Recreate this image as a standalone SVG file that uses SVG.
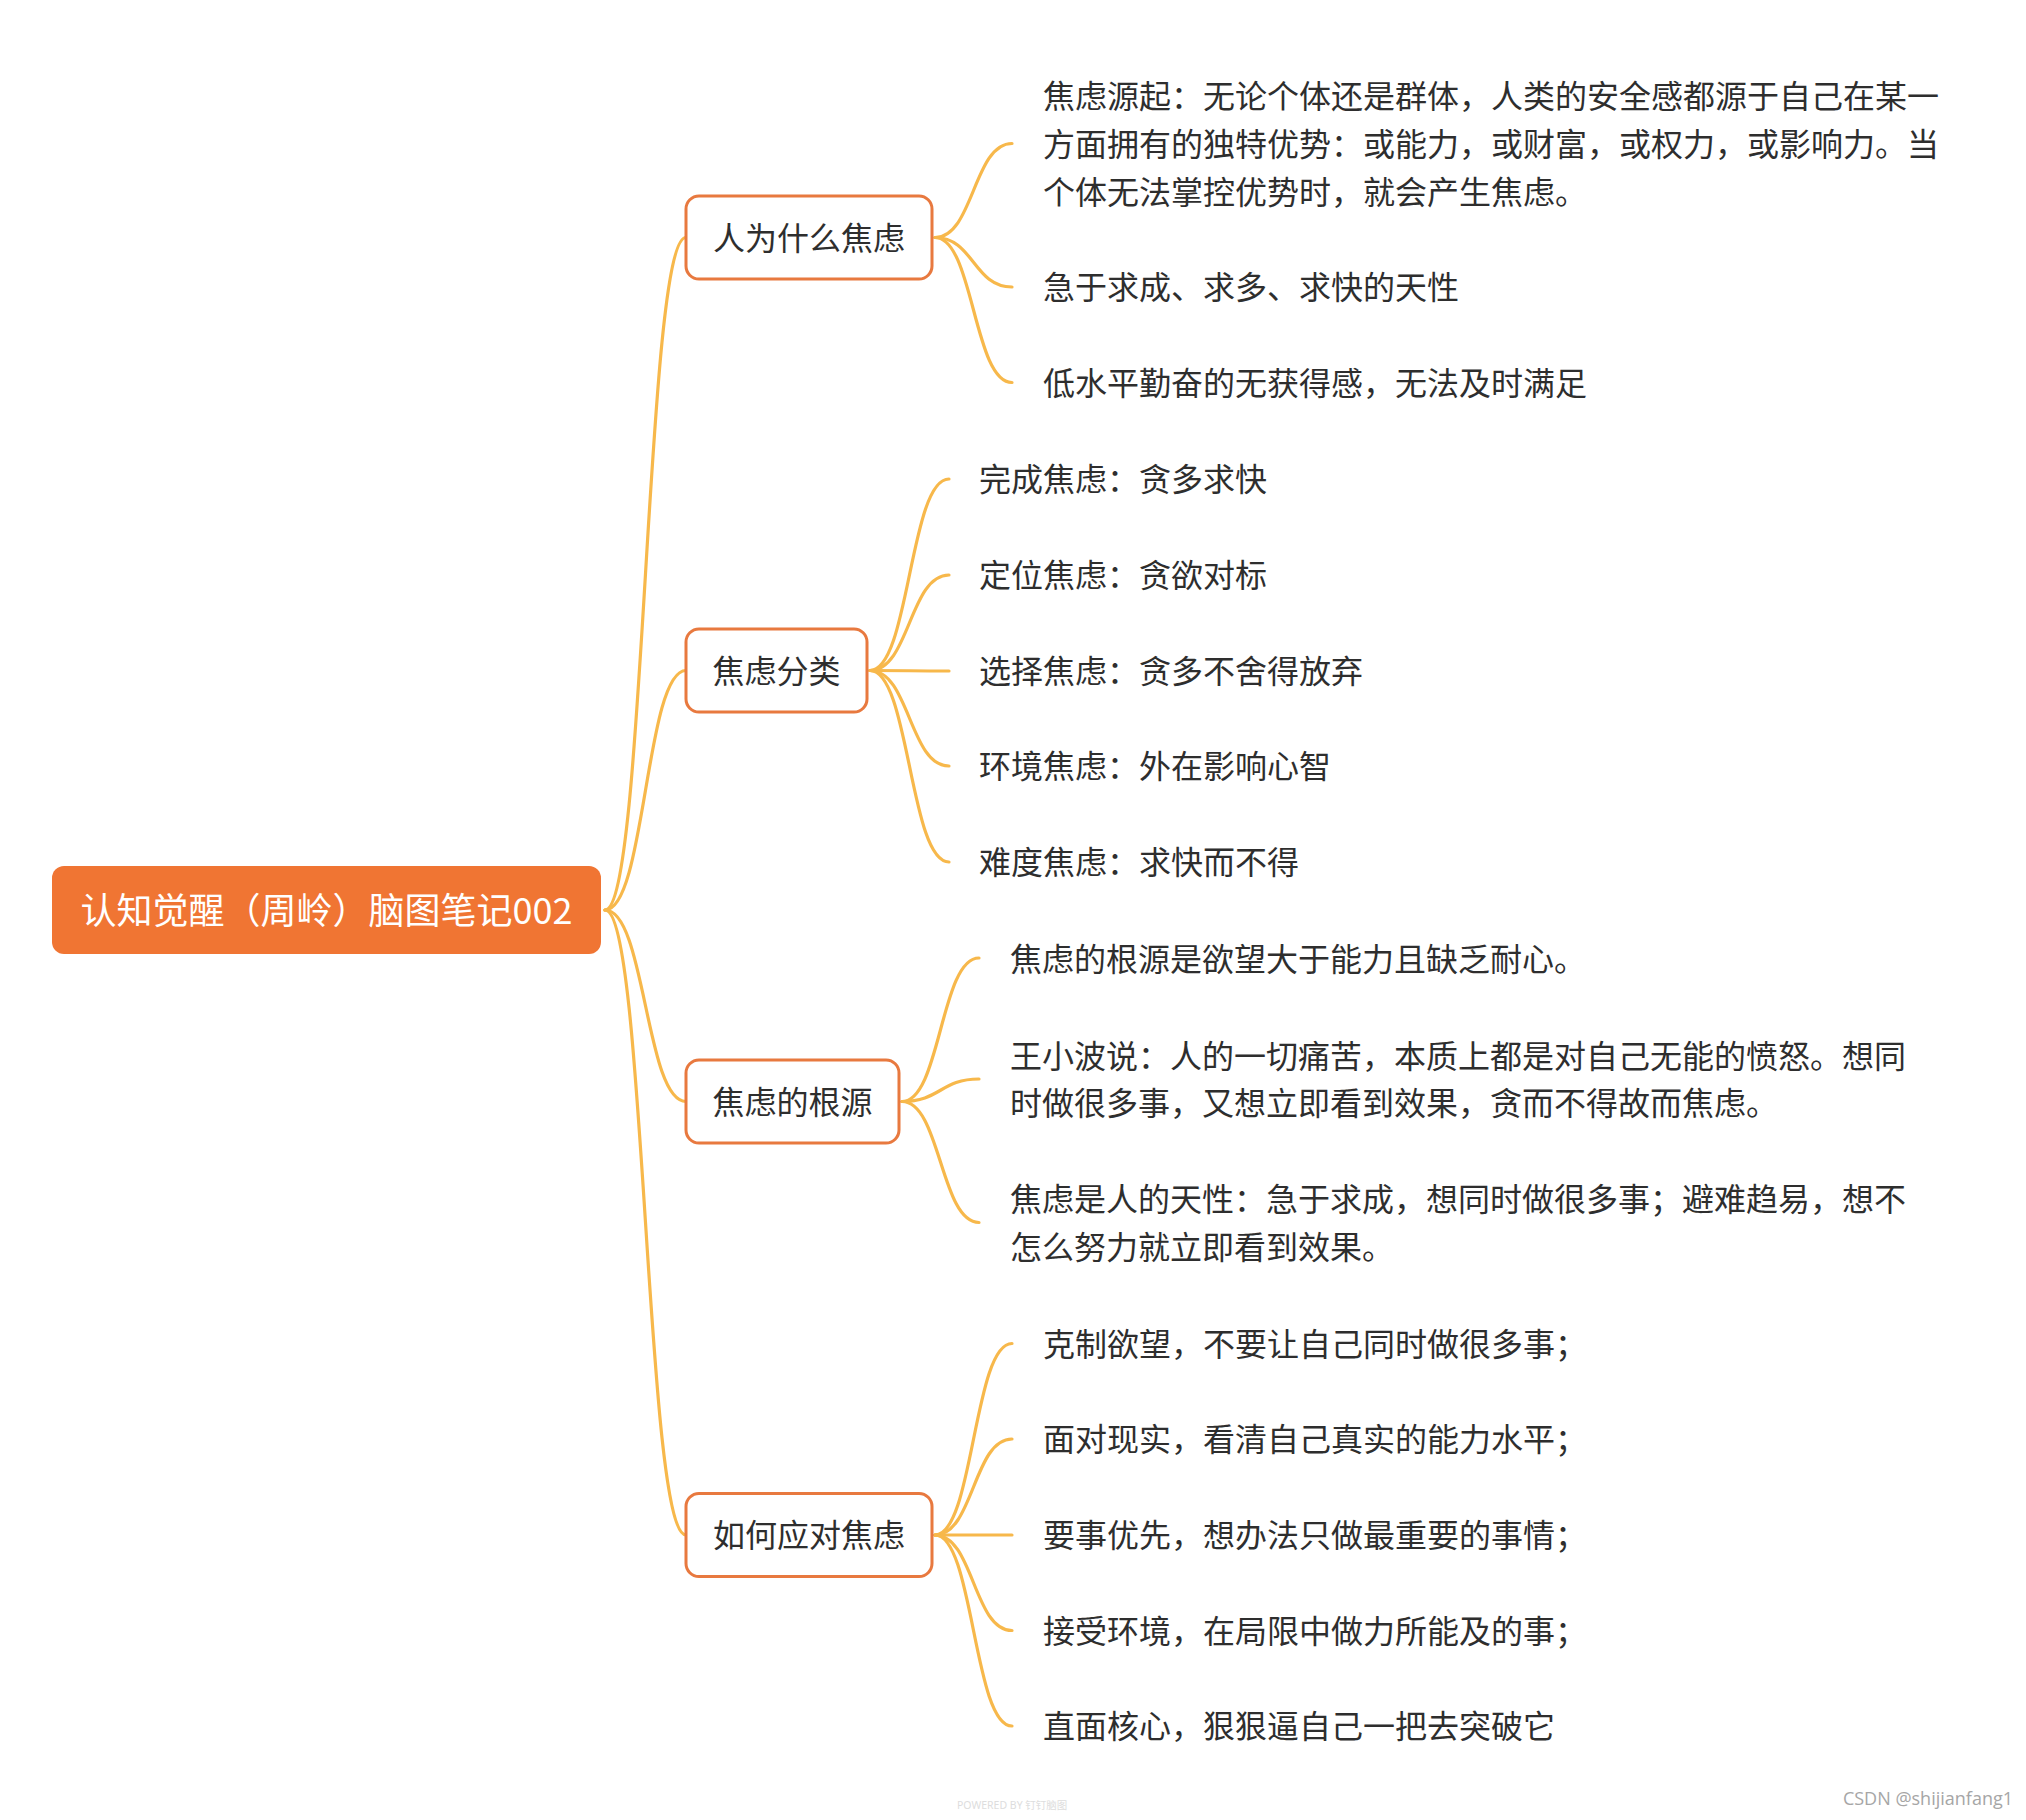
<svg xmlns="http://www.w3.org/2000/svg" width="2026" height="1820" viewBox="0 0 2026 1820">
<style>
.bg{fill:#ffffff}
.link{fill:none;stroke:#F7B84B;stroke-width:3.2;stroke-linecap:round}
.root{fill:#F07533}
.rootText{font-family:"Noto Sans CJK SC","Noto Sans",sans-serif;font-size:36px;fill:#ffffff}
.l1{fill:#ffffff;stroke:#E8793F;stroke-width:3}
.l1Text{font-family:"Noto Sans CJK SC","Noto Sans",sans-serif;font-size:32px;fill:#2e2e2e}
.leaf{font-family:"Noto Sans CJK SC","Noto Sans",sans-serif;font-size:32px;fill:#2e2e2e}
.mark{font-family:"Open Sans","Noto Sans",sans-serif;font-size:18px;fill:#a6a6a6}
.powered{font-family:"Noto Sans","Noto Sans CJK SC",sans-serif;font-size:10.5px;fill:#dddddd}
</style>
<rect class="bg" x="0" y="0" width="2026" height="1820"/>
<g id="connectors">
<path class="link" d="M605,910 C645.5,910 645.5,237.5 686,237.5"/>
<path class="link" d="M605,910 C645.5,910 645.5,670.5 686,670.5"/>
<path class="link" d="M605,910 C645.5,910 645.5,1101.5 686,1101.5"/>
<path class="link" d="M605,910 C645.5,910 645.5,1535 686,1535"/>
<path class="link" d="M935,237.5 C973.5,237.5 973.5,143.5 1012,143.5"/>
<path class="link" d="M935,237.5 C973.5,237.5 973.5,287 1012,287"/>
<path class="link" d="M935,237.5 C973.5,237.5 973.5,382.5 1012,382.5"/>
<path class="link" d="M870,670.5 C909.5,670.5 909.5,479 949,479"/>
<path class="link" d="M870,670.5 C909.5,670.5 909.5,575 949,575"/>
<path class="link" d="M870,670.5 C909.5,670.5 909.5,671 949,671"/>
<path class="link" d="M870,670.5 C909.5,670.5 909.5,766 949,766"/>
<path class="link" d="M870,670.5 C909.5,670.5 909.5,862 949,862"/>
<path class="link" d="M902,1101.5 C940.5,1101.5 940.5,958 979,958"/>
<path class="link" d="M902,1101.5 C940.5,1101.5 940.5,1079 979,1079"/>
<path class="link" d="M902,1101.5 C940.5,1101.5 940.5,1222.5 979,1222.5"/>
<path class="link" d="M935,1535 C973.5,1535 973.5,1343.5 1012,1343.5"/>
<path class="link" d="M935,1535 C973.5,1535 973.5,1439 1012,1439"/>
<path class="link" d="M935,1535 C973.5,1535 973.5,1535 1012,1535"/>
<path class="link" d="M935,1535 C973.5,1535 973.5,1630.5 1012,1630.5"/>
<path class="link" d="M935,1535 C973.5,1535 973.5,1726 1012,1726"/>
</g>
<g id="root">
<rect class="root" x="52" y="866" width="549" height="88" rx="12" ry="12"/>
<text class="rootText" x="326.5" y="923.5" text-anchor="middle">认知觉醒（周岭）脑图笔记002</text>
</g>
<g id="n-why">
<rect class="l1" x="686" y="196" width="246" height="83" rx="13" ry="13"/>
<text class="l1Text" x="809" y="249.5" text-anchor="middle">人为什么焦虑</text>
</g>
<g id="n-type">
<rect class="l1" x="686" y="629" width="181" height="83" rx="13" ry="13"/>
<text class="l1Text" x="776.5" y="682.5" text-anchor="middle">焦虑分类</text>
</g>
<g id="n-root">
<rect class="l1" x="686" y="1060" width="213" height="83" rx="13" ry="13"/>
<text class="l1Text" x="792.5" y="1113.5" text-anchor="middle">焦虑的根源</text>
</g>
<g id="n-how">
<rect class="l1" x="686" y="1493.5" width="246" height="83" rx="13" ry="13"/>
<text class="l1Text" x="809" y="1547" text-anchor="middle">如何应对焦虑</text>
</g>
<g id="leaf-why-1">
<text class="leaf" x="1043" y="107.5">焦虑源起：无论个体还是群体，人类的安全感都源于自己在某一</text>
<text class="leaf" x="1043" y="155.5">方面拥有的独特优势：或能力，或财富，或权力，或影响力。当</text>
<text class="leaf" x="1043" y="203.5">个体无法掌控优势时，就会产生焦虑。</text>
</g>
<g id="leaf-why-2"><text class="leaf" x="1043" y="299">急于求成、求多、求快的天性</text></g>
<g id="leaf-why-3"><text class="leaf" x="1043" y="394.5">低水平勤奋的无获得感，无法及时满足</text></g>
<g id="leaf-type-1"><text class="leaf" x="979" y="491">完成焦虑：贪多求快</text></g>
<g id="leaf-type-2"><text class="leaf" x="979" y="587">定位焦虑：贪欲对标</text></g>
<g id="leaf-type-3"><text class="leaf" x="979" y="683">选择焦虑：贪多不舍得放弃</text></g>
<g id="leaf-type-4"><text class="leaf" x="979" y="778">环境焦虑：外在影响心智</text></g>
<g id="leaf-type-5"><text class="leaf" x="979" y="874">难度焦虑：求快而不得</text></g>
<g id="leaf-root-1"><text class="leaf" x="1010" y="971">焦虑的根源是欲望大于能力且缺乏耐心。</text></g>
<g id="leaf-root-2">
<text class="leaf" x="1010" y="1067.5">王小波说：人的一切痛苦，本质上都是对自己无能的愤怒。想同</text>
<text class="leaf" x="1010" y="1115">时做很多事，又想立即看到效果，贪而不得故而焦虑。</text>
</g>
<g id="leaf-root-3">
<text class="leaf" x="1010" y="1211">焦虑是人的天性：急于求成，想同时做很多事；避难趋易，想不</text>
<text class="leaf" x="1010" y="1258.5">怎么努力就立即看到效果。</text>
</g>
<g id="leaf-how-1"><text class="leaf" x="1043" y="1355.5">克制欲望，不要让自己同时做很多事；</text></g>
<g id="leaf-how-2"><text class="leaf" x="1043" y="1451">面对现实，看清自己真实的能力水平；</text></g>
<g id="leaf-how-3"><text class="leaf" x="1043" y="1546.5">要事优先，想办法只做最重要的事情；</text></g>
<g id="leaf-how-4"><text class="leaf" x="1043" y="1642.5">接受环境，在局限中做力所能及的事；</text></g>
<g id="leaf-how-5"><text class="leaf" x="1043" y="1738">直面核心，狠狠逼自己一把去突破它</text></g>
<text class="powered" x="957" y="1809">POWERED BY 钉钉脑图</text>
<text class="mark" x="2013" y="1805" text-anchor="end">CSDN @shijianfang1</text>
</svg>
